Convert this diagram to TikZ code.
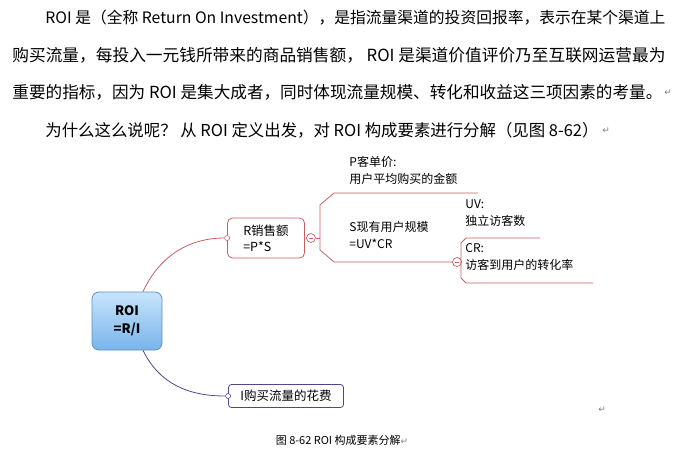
\documentclass[tikz,border=0pt]{standalone}
\usepackage{fontspec}
\setmainfont{Noto Sans CJK SC}
\newfontfamily\cjk{Noto Sans CJK SC}
\newfontfamily\symfont{DejaVu Sans}
\usetikzlibrary{positioning}
\definecolor{redline}{RGB}{196,96,96}
\definecolor{navyline}{RGB}{80,70,140}
\definecolor{boxtop}{RGB}{200,228,252}
\definecolor{boxbot}{RGB}{120,180,235}
\newcommand{\parmark}{{\symfont\color{gray}\small ↵}}

\begin{document}
\begin{tikzpicture}[x=1pt, y=-1pt, thick]
\tikzstyle{textline}=[anchor=west, inner sep=0pt, font=\fontsize{12.5}{14}\selectfont]
\tikzstyle{rootbox}=[rectangle, rounded corners=7pt, draw=boxbot!80!black, top color=boxtop, bottom color=boxbot, minimum width=70pt, minimum height=58pt, align=center, font=\fontsize{13}{18}\selectfont\bfseries]
\tikzstyle{redbox}=[rectangle, rounded corners=5pt, draw=redline, fill=white, minimum width=77pt, minimum height=40pt, align=left, font=\fontsize{12.5}{16}\selectfont]
\tikzstyle{navybox}=[rectangle, rounded corners=3pt, draw=navyline, fill=white, minimum width=115pt, minimum height=23pt, font=\fontsize{12.5}{14}\selectfont]
\tikzstyle{leaf}=[anchor=north west, inner sep=0pt, align=left, font=\fontsize{12}{17}\selectfont]
\tikzstyle{knob}=[circle, draw=redline, fill=white, inner sep=0pt, minimum size=5pt, line width=0.6pt]
\tikzstyle{minus}=[circle, draw=redline, fill=white, inner sep=0pt, minimum size=9pt, line width=0.7pt]

\useasboundingbox (0,0) rectangle (690,455);

% paragraph
\node[textline] (L1) at (45,18) {\resizebox{620pt}{!}{ROI 是（全称 Return On Investment），是指流量渠道的投资回报率，表示在某个渠道上}};
\node[textline] (L2) at (12,55) {\resizebox{653pt}{!}{购买流量，每投入一元钱所带来的商品销售额， ROI 是渠道价值评价乃至互联网运营最为}};
\node[textline] (L3) at (12,92) {\resizebox{650pt}{!}{重要的指标，因为 ROI 是集大成者，同时体现流量规模、转化和收益这三项因素的考量。}};
\node[textline] (P3) at (664,93) {\parmark};
\node[textline] (L4) at (45,130) {\resizebox{553pt}{!}{为什么这么说呢？ 从 ROI 定义出发，对 ROI 构成要素进行分解（见图 8-62）}};
\node[textline] (P4) at (602,131) {\parmark};

% mind map
\node[rootbox] (roi) at (127,321) {ROI\\=R/I};
\node[redbox] (rsale) at (266,238) {R销售额\\=P*S};
\node[navybox] (icost) at (286,396) {I购买流量的花费};
\node[knob] (rk) at (rsale.west) {};
\node[knob, draw=navyline] (ik) at (icost.west) {};
\node[minus] (rm) at ([xshift=6pt]rsale.east) {};
\draw[redline, line width=0.6pt] ([xshift=-2pt]rm.center) -- ([xshift=2pt]rm.center);
\coordinate (rtop) at ([xshift=16pt]roi.north);
\coordinate (rbot) at ([xshift=16pt]roi.south);
\draw[redline] (rtop) .. controls (160,255) and (190,238) .. (rk);
\draw[navyline] (rbot) .. controls (160,385) and (190,396) .. (ik);

% sub branches
\coordinate (fork) at (320,238);
\coordinate (pend) at (478,193);
\coordinate (send) at (453,262);
\draw[redline] (rm) -- (fork);
\draw[redline] (fork) -- (320,205) -- (334,193) -- (pend);
\draw[redline] (fork) -- (320,250) -- (334,262) -- (send);
\node[leaf] (pnode) at (349,156) {P客单价:\\用户平均购买的金额};
\node[leaf] (snode) at (349,221) {S现有用户规模\\=UV*CR};
\node[minus] (sm) at ([xshift=4pt]send) {};
\draw[redline, line width=0.6pt] ([xshift=-2pt]sm.center) -- ([xshift=2pt]sm.center);
\draw[redline] (sm.east) -- (461,262);
\draw[redline] (540,238) -- (466,238) -- (461,243) -- (461,278) -- (466,283) -- (593,283);
\node[leaf] (uv) at (465,199) {UV:\\独立访客数};
\node[leaf] (cr) at (465,243) {CR:\\访客到用户的转化率};

\node[textline] (P5) at (598,410) {\parmark};
\node[anchor=center, inner sep=0pt, font=\fontsize{11}{12}\selectfont] (cap) at (342,440) {图 8-62 ROI 构成要素分解\parmark};
\end{tikzpicture}
\end{document}
